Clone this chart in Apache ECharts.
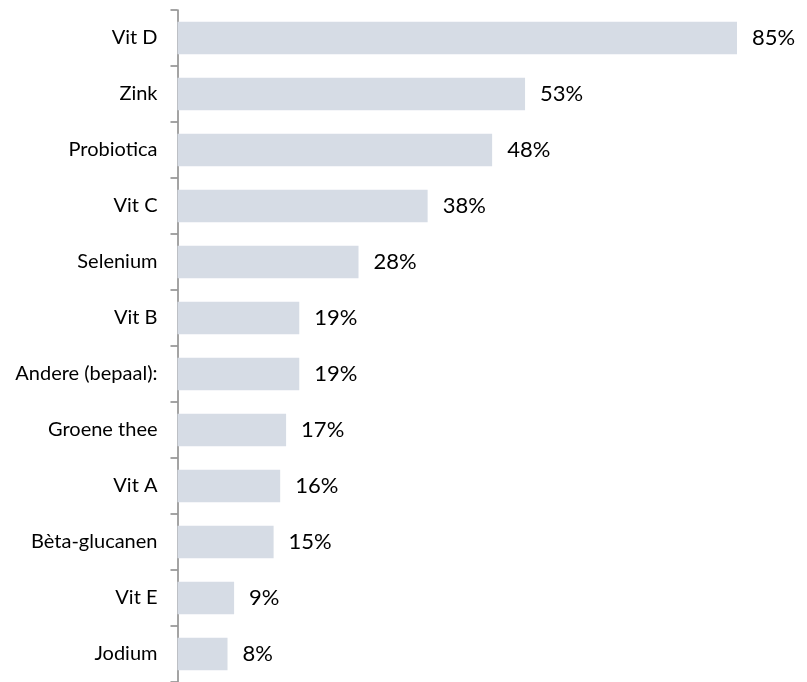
<!DOCTYPE html>
<html><head><meta charset="utf-8">
<script src="https://cdn.jsdelivr.net/npm/echarts@6/dist/echarts.min.js"></script>
<style>html,body{margin:0;padding:0;background:#fff}#c{width:807px;height:682px}</style>
</head><body><div id="c"></div>
<script>
const categories = ['Vit D','Zink','Probiotica','Vit C','Selenium','Vit B','Andere (bepaal):','Groene thee','Vit A','Bèta-glucanen','Vit E','Jodium'];
const values = [85,52.8,47.8,38.0,27.5,18.5,18.5,16.5,15.6,14.6,8.6,7.6];

const chart = echarts.init(document.getElementById('c'));
chart.setOption({
  animation:false,
  grid:{left:177.5, top:10, width:559.5, height:677},
  xAxis:{type:'value', min:0, max:85, show:false},
  yAxis:{type:'category', data:categories, inverse:true,
    axisLine:{show:true, lineStyle:{color:'#868686', width:1.5}},
    axisTick:{show:true, length:7, lineStyle:{color:'#868686', width:1.5}},
    axisLabel:{margin:20, fontFamily:'Lato', fontSize:20, color:'#000'}},
  series:[{type:'bar', data:values, barCategoryGap:'42%',
    itemStyle:{color:'#D6DCE5'},
    label:{show:true, position:'right', distance:15, fontFamily:'Lato', fontSize:22, color:'#000',
      formatter: p => Math.round(p.value) + '%'}}]
});
</script></body></html>
